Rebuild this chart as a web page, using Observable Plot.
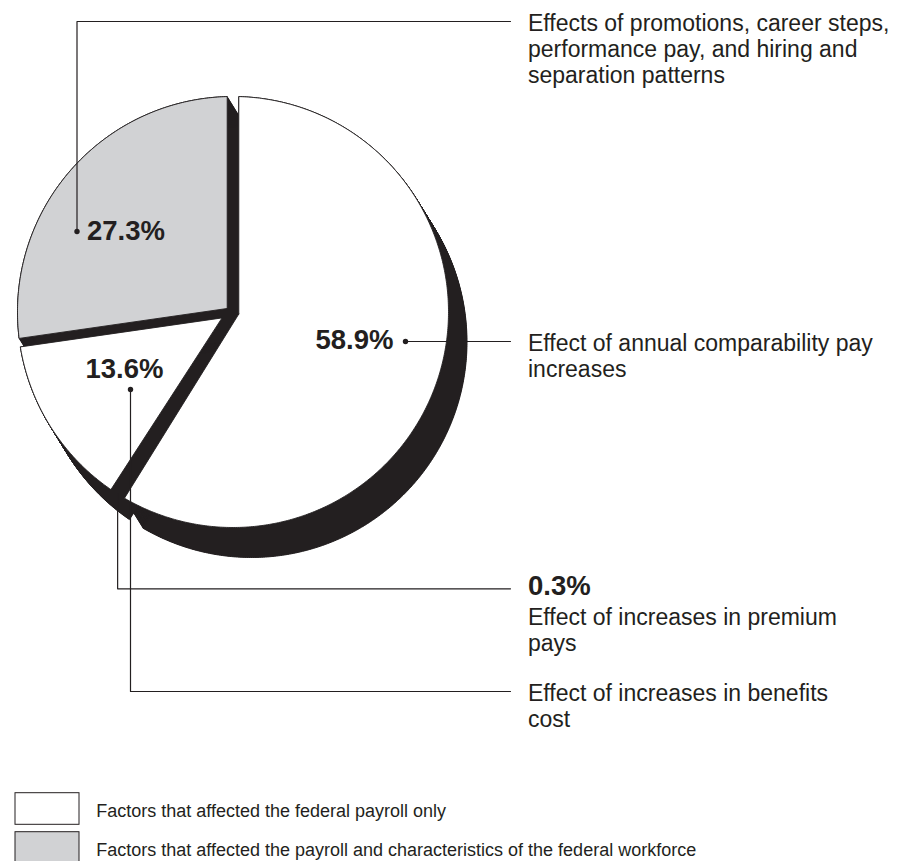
<!DOCTYPE html>
<html><head><meta charset="utf-8">
<script src="https://cdn.jsdelivr.net/npm/d3@7"></script>
<script src="https://cdn.jsdelivr.net/npm/@observablehq/plot@0.6"></script>
<style>
body{margin:0;background:#fff;}
svg{display:block;}
</style>
</head><body><div id="chart"></div>
<script>
// ---------- DATA ----------
const categories = [
  "Effect of annual comparability pay increases",
  "Effect of increases in premium pays",
  "Effect of increases in benefits cost",
  "Effects of promotions, career steps, performance pay, and hiring and separation patterns"
];
const shares = [58.9, 0.3, 13.6, 27.3];
const groups = ["payroll", "payroll", "payroll", "workforce"];
const shareLabels = ["58.9%", "0.3%", "13.6%", "27.3%"];
const calloutLines = [
  "Effect of annual comparability pay\nincreases",
  "Effect of increases in premium\npays",
  "Effect of increases in benefits\ncost",
  "Effects of promotions, career steps,\nperformance pay, and hiring and\nseparation patterns"
];
const legendGroups = ["payroll", "workforce"];
const legendLabels = [
  "Factors that affected the federal payroll only",
  "Factors that affected the payroll and characteristics of the federal workforce"
];

// ---------- LAYOUT ----------
const W = 898, H = 861;
const C = [232.5, 311.5], R = 215.5;
const depth = [18.5, 30];
const ink = "#231f20";
const fillOf = {payroll: "#ffffff", workforce: "#d1d2d4"};
const font = "'Liberation Sans', Arial, Helvetica, sans-serif";
const inset = {0: [5.8, 6.0], 2: [6.0, 4.3], 3: [4.3, 5.8]};
const textX = 527.5;
const calloutSize = 23, pctSize = 27.5, legendSize = 18;

// ---------- GEOMETRY FROM DATA ----------
const arcs = d3.pie().sort(null).value(d => d)(shares);
const u = a => [Math.sin(a), -Math.cos(a)];
const onCircle = a => [C[0] + R * Math.sin(a), C[1] - R * Math.cos(a)];
const angleOf = p => { let a = Math.atan2(p[0] - C[0], -(p[1] - C[1])); return a < 0 ? a + 2 * Math.PI : a; };

function rayHit(P, dir) {
  const d = [P[0] - C[0], P[1] - C[1]];
  const b = d[0] * dir[0] + d[1] * dir[1];
  const c = d[0] * d[0] + d[1] * d[1] - R * R;
  const s = -b + Math.sqrt(b * b - c);
  return [P[0] + s * dir[0], P[1] + s * dir[1]];
}

const faces = [];
arcs.forEach((arc, i) => {
  if (!inset[i]) return;
  const a0 = arc.startAngle, a1 = arc.endAngle;
  const [h0, h1] = inset[i];
  const u0 = u(a0), u1 = u(a1);
  const n0 = [Math.cos(a0), Math.sin(a0)];
  const n1 = [-Math.cos(a1), -Math.sin(a1)];
  const b = [h1 * n1[0] - h0 * n0[0], h1 * n1[1] - h0 * n0[1]];
  const det = -u0[0] * u1[1] + u1[0] * u0[1];
  const s = (-b[0] * u1[1] + u1[0] * b[1]) / det;
  const P = [C[0] + h0 * n0[0] + s * u0[0], C[1] + h0 * n0[1] + s * u0[1]];
  const Q0 = rayHit(P, u0), Q1 = rayHit(P, u1);
  let t0 = angleOf(Q0), t1 = angleOf(Q1);
  if (t1 <= t0) t1 += 2 * Math.PI;
  const pts = [P, Q0];
  const steps = Math.ceil((t1 - t0) / (Math.PI / 360));
  for (let k = 1; k < steps; k++) pts.push(onCircle(t0 + (t1 - t0) * k / steps));
  pts.push(Q1, P);
  faces.push({i, group: groups[i], pts});
});

const faceRows = faces.flatMap(f => f.pts.map(p => ({key: f.i, group: f.group, x: p[0], y: p[1]})));
const K = 48;
const shadowRows = [];
for (let k = 0; k <= K; k++) {
  const t = k / K;
  faces.forEach(f => f.pts.forEach(p => shadowRows.push({key: f.i * 1000 + k, x: p[0] + depth[0] * t, y: p[1] + depth[1] * t})));
}

// leader lines (i = slice index)
const tinyMid = (arcs[1].startAngle + arcs[1].endAngle) / 2;
const tinyEdge = onCircle(tinyMid);
const leaderY = {3: 21, 0: 341, 1: 588.3, 2: 691};
const leaders = [
  {i: 3, pts: [[76.5, 231], [76.5, leaderY[3]], [510, leaderY[3]]], dot: true},
  {i: 0, pts: [[405, leaderY[0]], [510, leaderY[0]]], dot: true},
  {i: 1, pts: [tinyEdge, [tinyEdge[0], leaderY[1]], [510, leaderY[1]]], dot: false},
  {i: 2, pts: [[130, 389], [130, leaderY[2]], [510, leaderY[2]]], dot: true}
];
const leaderRows = leaders.flatMap(l => l.pts.map(p => ({key: l.i, x: p[0], y: p[1]})));
const dotRows = leaders.filter(l => l.dot).map(l => ({x: l.pts[0][0], y: l.pts[0][1]}));

// in-pie percentage labels
const pieLabels = [
  {i: 0, x: 393, y: 339.5, anchor: "end"},
  {i: 2, x: 124, y: 369, anchor: "middle"},
  {i: 3, x: 86.5, y: 230.7, anchor: "start"}
].map(d => ({...d, text: shareLabels[d.i]}));
const pctMark = anchor => Plot.text(pieLabels.filter(d => d.anchor === anchor), {x: "x", y: "y", text: "text", textAnchor: anchor, fontSize: pctSize, fontWeight: "bold", fill: ink, lineAnchor: "middle"});

// callout text blocks: first line centred on the leader (0.3% block sits under its bold value)
const capHalf = calloutSize * 0.716 / 2;
const callouts = [
  {i: 3, y: leaderY[3] - capHalf - 1},
  {i: 0, y: leaderY[0] - capHalf - 0.5},
  {i: 1, y: leaderY[1] + 26 - capHalf},
  {i: 2, y: leaderY[2] - capHalf - 1}
].map(d => ({...d, text: calloutLines[d.i]}));

const legendRows = legendGroups.map((g, k) => ({g, label: legendLabels[k], y1: 792.7 + k * 39, y2: 824.3 + k * 39, ty: 810.5 + k * 39}));

const chart = Plot.plot({
  width: W, height: H, margin: 0,
  x: {domain: [0, W], range: [0, W], axis: null},
  y: {domain: [0, H], range: [0, H], axis: null},
  style: {fontFamily: font, color: ink, background: "#fff"},
  marks: [
    Plot.line(shadowRows, {x: "x", y: "y", z: "key", fill: ink, stroke: ink, strokeWidth: 1, curve: "linear"}),
    Plot.line(faceRows, {x: "x", y: "y", z: "key", fill: d => fillOf[d.group], stroke: ink, strokeWidth: 0.9, curve: "linear"}),
    Plot.line(leaderRows, {x: "x", y: "y", z: "key", stroke: ink, strokeWidth: 1.2, curve: "linear"}),
    Plot.dot(dotRows, {x: "x", y: "y", r: 2.7, fill: ink, stroke: "none"}),
    pctMark("end"), pctMark("middle"), pctMark("start"),
    Plot.text([{t: shareLabels[1]}], {x: () => textX, y: () => leaderY[1] - 3, text: "t", textAnchor: "start", fontSize: pctSize, fontWeight: "bold", fill: ink, lineAnchor: "middle"}),
    Plot.text(callouts, {x: () => textX, y: "y", text: "text", textAnchor: "start", fontSize: calloutSize, lineHeight: 26 / calloutSize, lineAnchor: "top", fill: ink}),
    Plot.rect(legendRows, {x1: () => 15, x2: () => 79, y1: "y1", y2: "y2", fill: d => fillOf[d.g], stroke: ink, strokeWidth: 1}),
    Plot.text(legendRows, {x: () => 95.7, y: "ty", text: "label", textAnchor: "start", fontSize: legendSize, fill: ink, lineAnchor: "middle"})
  ]
});
document.getElementById("chart").appendChild(chart);
</script>
</body></html>
